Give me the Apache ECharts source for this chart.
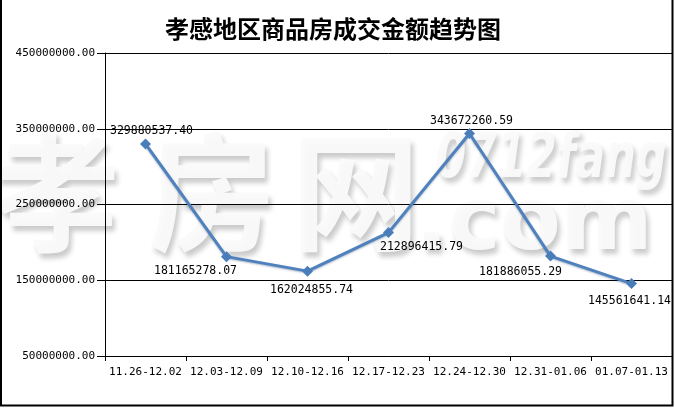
<!DOCTYPE html>
<html>
<head>
<meta charset="utf-8">
<script src="https://cdn.jsdelivr.net/npm/echarts@6/dist/echarts.min.js"></script>
<style>html,body{margin:0;padding:0;background:#fff}#c{width:675px;height:408px}</style>
</head>
<body>
<div id="c"></div>
<script>
var title = '孝感地区商品房成交金额趋势图';
var categories = ['11.26-12.02','12.03-12.09','12.10-12.16','12.17-12.23','12.24-12.30','12.31-01.06','01.07-01.13'];
var values = [329880537.40, 181165278.07, 162024855.74, 212896415.79, 343672260.59, 181886055.29, 145561641.14];
var yTickLabels = [50000000, 150000000, 250000000, 350000000, 450000000];

// label placement (layout, not data)
var labelOffsets = [[6,-13],[-31,14],[4,19],[33,14],[2,-13],[-30,16],[-2,17]];

var chart = echarts.init(document.getElementById('c'), null, {renderer:'canvas'});
var monoFont = '"DejaVu Sans Mono", "Liberation Mono", monospace';
var seriesData = values.map(function(v,i){
  return {value: v, label: {offset: labelOffsets[i]}};
});
function wm(text, x, y, size, extra, sx){
  var st = {text:text, x:0, y:0, fontSize:size, fontWeight:'bold', fontFamily:'"Noto Sans CJK SC", sans-serif',
    fill:'rgba(250,250,250,0.95)', textShadowColor:'rgba(0,0,0,0.22)', textShadowBlur:5, textShadowOffsetX:3, textShadowOffsetY:5};
  if (extra) for (var k in extra) st[k] = extra[k];
  return {type:'text', x:x, y:y, scaleX: sx || 1, z:-5, silent:true, style:st};
}
chart.setOption({
  animation: false,
  backgroundColor: '#fff',
  title: {
    text: title, left: 160, top: 12,
    textStyle: {fontFamily: '"Noto Sans CJK SC", sans-serif', fontSize: 24, fontWeight: 'bold', color: '#000'}
  },
  graphic: [
    {type:'rect', shape:{x:1, y:-5, width:671.5, height:410.5}, style:{fill:'none', stroke:'#000', lineWidth:2}, z:100},
    wm('孝', -8, 128, 128),
    wm('房', 148, 128, 128),
    wm('网', 292, 128, 128),
    wm('0712fang', 436, 130, 62, {fontStyle:'italic', fontFamily:'"DejaVu Sans", sans-serif'}, 0.7),
    wm('.com', 415, 182, 88, {fontFamily:'"DejaVu Sans", sans-serif'})
  ],
  grid: {left: 105, right: 3, top: 53, bottom: 52, containLabel: false},
  xAxis: {
    type: 'category', data: categories, boundaryGap: true,
    axisLine: {lineStyle: {color: '#000', width: 1}},
    axisTick: {show: true, length: 5, lineStyle: {color: '#000'}},
    axisLabel: {color: '#000', fontSize: 11, fontFamily: monoFont, margin: 11, interval: 0}
  },
  yAxis: {
    type: 'value', min: 50000000, max: 450000000, interval: 50000000,
    axisLine: {show: true, lineStyle: {color: '#000', width: 1}},
    axisTick: {show: true, length: 8, customValues: yTickLabels, lineStyle: {color: '#000'}},
    axisLabel: {color: '#000', fontSize: 11, fontFamily: monoFont, margin: 10, customValues: yTickLabels,
      formatter: function(v){ return Number(v).toFixed(2); }},
    splitLine: {show: true, lineStyle: {color: '#000', width: 1}}
  },
  series: [{
    type: 'line', data: seriesData, z: 5,
    symbol: 'diamond', symbolSize: 11,
    itemStyle: {color: '#4a7ebb'},
    lineStyle: {color: '#4f81bd', width: 3, shadowColor: 'rgba(30,60,110,0.35)', shadowBlur: 2, shadowOffsetY: 1},
    label: {show: true, position: 'inside', color: '#000', fontSize: 11.5, fontFamily: monoFont,
      formatter: function(p){ return Number(p.value).toFixed(2); }}
  }]
});
</script>
</body>
</html>
